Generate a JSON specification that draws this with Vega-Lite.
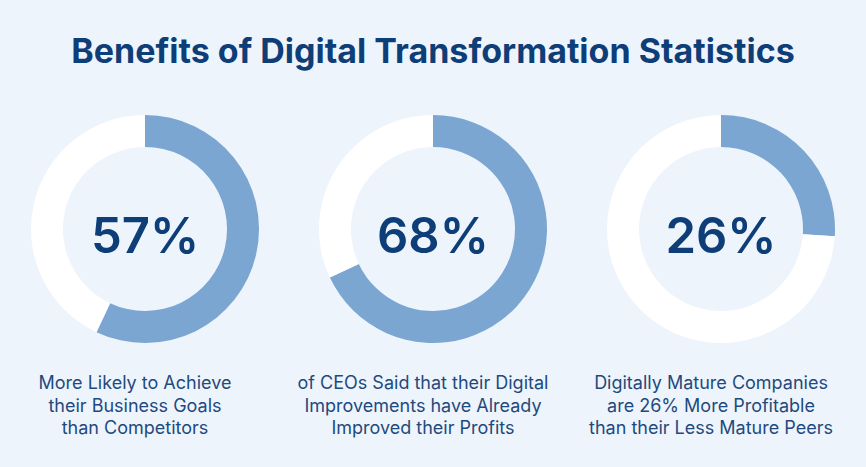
{
  "$schema": "https://vega.github.io/schema/vega-lite/v6.json",
  "background": "#EEF4FC",
  "padding": {"left": 1, "right": 1, "top": 36, "bottom": 40},
  "title": {"text": "Benefits of Digital Transformation Statistics", "font": "Inter", "fontSize": 34, "fontWeight": 700, "color": "#0E3E78", "anchor": "middle", "offset": 6},
  "data": {"values": [
    {"id": 1, "part": "value", "ord": 1, "v": 57, "label": "57%", "caption": ["More Likely to Achieve", "their Business Goals", "than Competitors"]},
    {"id": 1, "part": "rest", "ord": 2, "v": 43, "label": "", "caption": []},
    {"id": 2, "part": "value", "ord": 1, "v": 68, "label": "68%", "caption": ["of CEOs Said that their Digital", "Improvements have Already", "Improved their Profits"]},
    {"id": 2, "part": "rest", "ord": 2, "v": 32, "label": "", "caption": []},
    {"id": 3, "part": "value", "ord": 1, "v": 26, "label": "26%", "caption": ["Digitally Mature Companies", "are 26% More Profitable", "than their Less Mature Peers"]},
    {"id": 3, "part": "rest", "ord": 2, "v": 74, "label": "", "caption": []}
  ]},
  "facet": {"column": {"field": "id", "type": "ordinal", "header": null}},
  "spacing": 0,
  "spec": {
    "width": 288,
    "height": 306,
    "layer": [
      {
        "mark": {"type": "arc", "outerRadius": 116, "innerRadius": 116, "color": "#C9D3E0", "opacity": 0.6, "yOffset": 2},
        "transform": [{"filter": "datum.part === 'value'"}],
        "encoding": {}
      },
      {
        "mark": {"type": "arc", "outerRadius": 114, "innerRadius": 82, "strokeWidth": 0},
        "encoding": {
          "theta": {"field": "v", "type": "quantitative", "stack": true},
          "order": {"field": "ord", "type": "quantitative"},
          "color": {"field": "part", "type": "nominal", "scale": {"domain": ["value", "rest"], "range": ["#7BA6D2", "#FFFFFF"]}, "legend": null}
        }
      },
      {
        "mark": {"type": "text", "font": "Inter", "fontSize": 49, "fontWeight": 600, "color": "#0E3E78", "baseline": "alphabetic", "align": "center", "dy": 24},
        "transform": [{"filter": "datum.part === 'value'"}],
        "encoding": {"text": {"field": "label"}}
      },
      {
        "mark": {"type": "text", "font": "Inter", "fontSize": 18, "fontWeight": 400, "color": "#1E4A7E", "baseline": "alphabetic", "align": "center", "dx": -10, "dy": 160, "lineHeight": 22.5},
        "transform": [{"filter": "datum.part === 'value'"}],
        "encoding": {"text": {"field": "caption"}}
      }
    ]
  },
  "config": {"view": {"stroke": null}}
}
